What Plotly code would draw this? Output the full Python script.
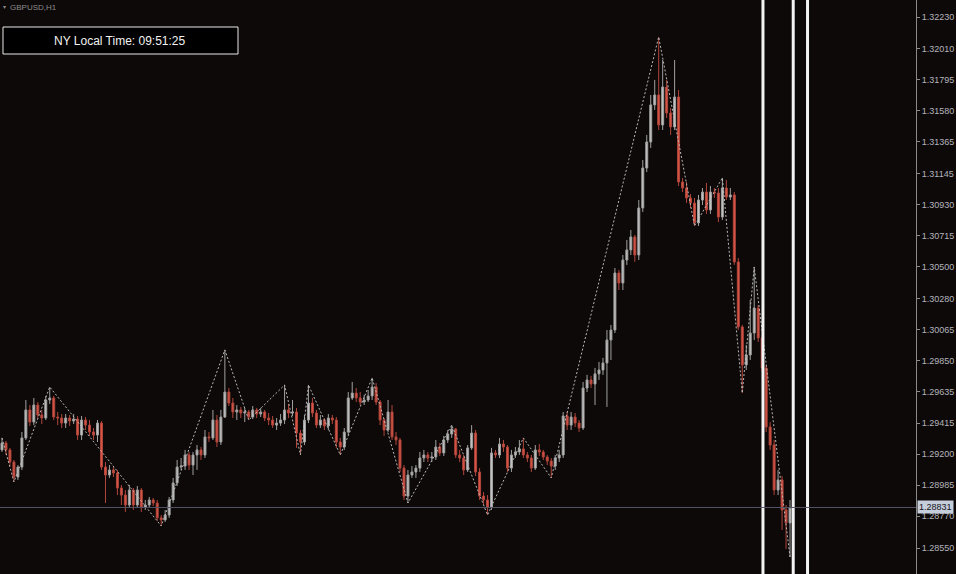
import plotly.graph_objects as go

# ---------------- data (GBPUSD H1) ----------------
first_open = 1.29230
closes = [
    1.29278, 1.29230, 1.29146, 1.29042, 1.29111, 1.29313, 1.29507, 1.29423, 1.29541, 1.29472,
    1.29451, 1.29576, 1.29590, 1.29458, 1.29451, 1.29416, 1.29451, 1.29430, 1.29444, 1.29333,
    1.29437, 1.29402, 1.29354, 1.29333, 1.29416, 1.29111, 1.29056, 1.29091, 1.29070, 1.28966,
    1.28917, 1.28848, 1.28952, 1.28848, 1.28952, 1.28834, 1.28848, 1.28883, 1.28862, 1.28759,
    1.28745, 1.28779, 1.28883, 1.29001, 1.29111, 1.29118, 1.29195, 1.29125, 1.29195, 1.29230,
    1.29195, 1.29320, 1.29313, 1.29437, 1.29285, 1.29458, 1.29631, 1.29555, 1.29493, 1.29507,
    1.29486, 1.29493, 1.29458, 1.29507, 1.29479, 1.29493, 1.29451, 1.29437, 1.29402, 1.29416,
    1.29437, 1.29507, 1.29486, 1.29493, 1.29347, 1.29285, 1.29437, 1.29555, 1.29486, 1.29402,
    1.29437, 1.29396, 1.29451, 1.29437, 1.29285, 1.29250, 1.29354, 1.29590, 1.29624, 1.29590,
    1.29562, 1.29576, 1.29604, 1.29666, 1.29562, 1.29437, 1.29368, 1.29493, 1.29320, 1.29299,
    1.29104, 1.28910, 1.29056, 1.29077, 1.29104, 1.29174, 1.29195, 1.29174, 1.29181, 1.29250,
    1.29209, 1.29299, 1.29340, 1.29375, 1.29195, 1.29174, 1.29091, 1.29244, 1.29347, 1.29077,
    1.28910, 1.28883, 1.28834, 1.29209, 1.29195, 1.29271, 1.29250, 1.29104, 1.29195, 1.29216,
    1.29237, 1.29195, 1.29174, 1.29104, 1.29230, 1.29216, 1.29181, 1.29153, 1.29118, 1.29174,
    1.29195, 1.29465, 1.29402, 1.29458, 1.29416, 1.29382, 1.29659, 1.29715, 1.29687, 1.29757,
    1.29784, 1.29833, 1.29992, 1.30061, 1.30456, 1.30387, 1.30546, 1.30616, 1.30706, 1.30581,
    1.30907, 1.31184, 1.31364, 1.31621, 1.31690, 1.31482, 1.31745, 1.31565, 1.31468, 1.31676,
    1.31087, 1.31045, 1.30976, 1.30941, 1.30803, 1.30962, 1.31017, 1.30893, 1.31017, 1.31010,
    1.30844, 1.31045, 1.30983, 1.30997, 1.30533, 1.30082, 1.29819, 1.29888, 1.30040, 1.30213,
    1.30006, 1.29798, 1.29389, 1.29264, 1.28952, 1.29022, 1.28814, 1.28724, 1.28831,
]
highs = [
    1.29313, 1.29292, 1.29244, 1.29160, 1.29125, 1.29354, 1.29576, 1.29541, 1.29590, 1.29562,
    1.29507, 1.29604, 1.29666, 1.29604, 1.29493, 1.29479, 1.29479, 1.29472, 1.29479, 1.29465,
    1.29465, 1.29458, 1.29437, 1.29382, 1.29437, 1.29430, 1.29146, 1.29125, 1.29111, 1.29091,
    1.28987, 1.28952, 1.28987, 1.28966, 1.28980, 1.28966, 1.28883, 1.28904, 1.28897, 1.28883,
    1.28779, 1.28814, 1.28904, 1.29036, 1.29160, 1.29174, 1.29230, 1.29216, 1.29216, 1.29264,
    1.29250, 1.29368, 1.29354, 1.29507, 1.29472, 1.29507, 1.29923, 1.29659, 1.29590, 1.29541,
    1.29528, 1.29521, 1.29507, 1.29534, 1.29521, 1.29521, 1.29507, 1.29486, 1.29465, 1.29451,
    1.29479, 1.29680, 1.29548, 1.29576, 1.29521, 1.29368, 1.29472, 1.29680, 1.29590, 1.29507,
    1.29472, 1.29451, 1.29479, 1.29472, 1.29458, 1.29313, 1.29382, 1.29631, 1.29701, 1.29659,
    1.29631, 1.29611, 1.29645, 1.29729, 1.29694, 1.29576, 1.29451, 1.29576, 1.29541, 1.29354,
    1.29313, 1.29125, 1.29091, 1.29118, 1.29125, 1.29216, 1.29230, 1.29216, 1.29216, 1.29299,
    1.29278, 1.29327, 1.29368, 1.29402, 1.29382, 1.29230, 1.29195, 1.29264, 1.29402, 1.29368,
    1.29104, 1.28938, 1.28917, 1.29244, 1.29230, 1.29313, 1.29299, 1.29264, 1.29230, 1.29250,
    1.29299, 1.29313, 1.29216, 1.29195, 1.29264, 1.29271, 1.29230, 1.29195, 1.29174, 1.29195,
    1.29230, 1.29493, 1.29493, 1.29493, 1.29486, 1.29437, 1.29701, 1.29750, 1.29743, 1.29798,
    1.29840, 1.29868, 1.30061, 1.30096, 1.30491, 1.30477, 1.30581, 1.30685, 1.30754, 1.30720,
    1.30962, 1.31239, 1.31413, 1.31690, 1.31794, 1.32092, 1.31932, 1.31794, 1.31600, 1.31932,
    1.31724, 1.31115, 1.31087, 1.31003, 1.30976, 1.30997, 1.31045, 1.31080, 1.31059, 1.31045,
    1.31045, 1.31115, 1.31101, 1.31045, 1.31017, 1.30560, 1.30096, 1.29957, 1.30269, 1.30498,
    1.30234, 1.30026, 1.29819, 1.29423, 1.29299, 1.29091, 1.29049, 1.28848, 1.28883,
]
lows = [
    1.29216, 1.29195, 1.29118, 1.29008, 1.29022, 1.29091, 1.29299, 1.29396, 1.29402, 1.29451,
    1.29409, 1.29437, 1.29548, 1.29437, 1.29402, 1.29382, 1.29382, 1.29396, 1.29409, 1.29299,
    1.29299, 1.29368, 1.29327, 1.29299, 1.29285, 1.29091, 1.28862, 1.29036, 1.29042, 1.28917,
    1.28848, 1.28800, 1.28828, 1.28814, 1.28828, 1.28800, 1.28814, 1.28834, 1.28841, 1.28738,
    1.28703, 1.28731, 1.28759, 1.28862, 1.28980, 1.29091, 1.29091, 1.29091, 1.29056, 1.29091,
    1.29160, 1.29174, 1.29285, 1.29299, 1.29250, 1.29264, 1.29451, 1.29534, 1.29451, 1.29437,
    1.29451, 1.29423, 1.29437, 1.29444, 1.29451, 1.29458, 1.29430, 1.29402, 1.29382, 1.29368,
    1.29396, 1.29409, 1.29451, 1.29465, 1.29244, 1.29195, 1.29264, 1.29416, 1.29458, 1.29382,
    1.29382, 1.29368, 1.29368, 1.29409, 1.29244, 1.29195, 1.29230, 1.29333, 1.29576, 1.29562,
    1.29541, 1.29541, 1.29562, 1.29576, 1.29541, 1.29402, 1.29327, 1.29354, 1.29299, 1.29264,
    1.29077, 1.28883, 1.28862, 1.29036, 1.29036, 1.29077, 1.29146, 1.29146, 1.29146, 1.29160,
    1.29188, 1.29188, 1.29278, 1.29313, 1.29174, 1.29146, 1.29056, 1.29077, 1.29230, 1.29049,
    1.28883, 1.28848, 1.28779, 1.28814, 1.29174, 1.29174, 1.29216, 1.29077, 1.29077, 1.29174,
    1.29195, 1.29174, 1.29146, 1.29077, 1.29091, 1.29188, 1.29160, 1.29125, 1.29036, 1.29091,
    1.29146, 1.29174, 1.29368, 1.29368, 1.29389, 1.29354, 1.29368, 1.29631, 1.29659, 1.29541,
    1.29715, 1.29750, 1.29528, 1.29853, 1.30040, 1.30338, 1.30338, 1.30512, 1.30581, 1.30533,
    1.30546, 1.30879, 1.31156, 1.31323, 1.31586, 1.31447, 1.31447, 1.31530, 1.31413, 1.31447,
    1.31059, 1.31017, 1.30941, 1.30907, 1.30782, 1.30782, 1.30927, 1.30865, 1.30865, 1.30976,
    1.30809, 1.30823, 1.30962, 1.30962, 1.30512, 1.30061, 1.29624, 1.29784, 1.29853, 1.29992,
    1.29978, 1.29770, 1.29354, 1.29230, 1.28917, 1.28917, 1.28675, 1.28544, 1.28488,
]
opens = [first_open] + closes[:-1]
bars = list(range(len(closes)))

# zigzag swing points: candle index and whether it is a swing high
zz_bars = [0, 3, 12, 40, 56, 62, 71, 75, 77, 85, 93, 102, 113, 122, 131, 138, 165, 174, 181, 186, 189, 198]
zz_is_high = [True, False] * 11
zz_prices = [highs[b] if h else lows[b] for b, h in zip(zz_bars, zz_is_high)]

# session separator lines (bar positions)
session_bars = [191.2, 198.8, 202.4]

current_price = 1.28831
price_ticks = [1.32230, 1.32010, 1.31795, 1.31580, 1.31365, 1.31145, 1.30930, 1.30715,
               1.30500, 1.30280, 1.30065, 1.29850, 1.29635, 1.29415, 1.29200, 1.28985,
               1.28770, 1.28550]
tick_labels = [f"{v:.5f}" for v in price_ticks]

symbol_title = "GBPUSD,H1"
clock_text = "NY Local Time: 09:51:25"

# ---------------- figure ----------------
W, H = 956, 574
plot_right = 916 / W
bg = "#0d0908"

fig = go.Figure()
fig.add_trace(go.Candlestick(
    x=bars, open=opens, high=highs, low=lows, close=closes,
    increasing=dict(line=dict(color="#a0a0a0", width=1), fillcolor="#c6c6c6"),
    decreasing=dict(line=dict(color="#b0463c", width=1), fillcolor="#dc5646"),
    whiskerwidth=0, hoverinfo="skip", showlegend=False,
))
fig.add_trace(go.Scatter(
    x=zz_bars, y=zz_prices, mode="lines",
    line=dict(color="#b8b8b8", width=1, dash="2px,2px"),
    hoverinfo="skip", showlegend=False,
))

shapes = []
for sb in session_bars:
    shapes.append(dict(type="line", xref="x", yref="paper", x0=sb, x1=sb, y0=0, y1=1,
                       line=dict(color="#f4f4f4", width=3), layer="above"))
shapes.append(dict(type="line", xref="paper", yref="y", x0=0, x1=plot_right,
                   y0=current_price, y1=current_price,
                   line=dict(color="#545464", width=1), layer="above"))
shapes.append(dict(type="rect", xref="paper", yref="paper",
                   x0=3 / W, x1=238 / W, y0=1 - 54 / H, y1=1 - 27 / H,
                   fillcolor="#000000", line=dict(color="#e8e8e8", width=1), layer="above"))

annotations = [
    dict(xref="paper", yref="paper", x=120.5 / W, y=1 - 40.5 / H, text=clock_text,
         showarrow=False, xanchor="center", yanchor="middle",
         font=dict(family="Liberation Sans, Arial", size=12, color="#f2f2f2")),
    dict(xref="paper", yref="paper", x=8 / W, y=1 - 1 / H, text=symbol_title,
         showarrow=False, xanchor="left", yanchor="top",
         font=dict(family="Liberation Sans, Arial", size=8, color="#8c8c8c")),
    dict(xref="paper", yref="paper", x=1 / W, y=1 - 1 / H, text="▾",
         showarrow=False, xanchor="left", yanchor="top",
         font=dict(family="DejaVu Sans", size=6, color="#8c8c8c")),
    dict(xref="paper", yref="y", x=plot_right + 0.5 / W, y=current_price, text="1.28831",
         showarrow=False, xanchor="left", yanchor="middle",
         bgcolor="#c6cedc", borderpad=1,
         font=dict(family="Liberation Sans, Arial", size=9, color="#141420")),
]

fig.update_layout(
    width=W, height=H,
    margin=dict(l=0, r=0, t=0, b=0),
    paper_bgcolor=bg, plot_bgcolor=bg,
    shapes=shapes, annotations=annotations,
    showlegend=False,
    xaxis=dict(domain=[0, plot_right], range=[-0.5, 229.65], showgrid=False,
               zeroline=False, showticklabels=False, showline=False,
               rangeslider=dict(visible=False), fixedrange=True),
    yaxis=dict(side="right", range=[1.28370, 1.32348], showgrid=False, zeroline=False,
               tickmode="array", tickvals=price_ticks, ticktext=tick_labels,
               ticks="outside", ticklen=3, tickcolor="#8a8a8a",
               showline=True, linecolor="#8a8a8a", linewidth=1,
               tickfont=dict(family="Liberation Sans, Arial", size=9, color="#b4b4bc"),
               fixedrange=True),
)

fig.write_html(
    "out.html",
    config={"displayModeBar": False},
    post_script="document.body.style.margin='0px';document.body.style.background='" + bg + "';",
)
